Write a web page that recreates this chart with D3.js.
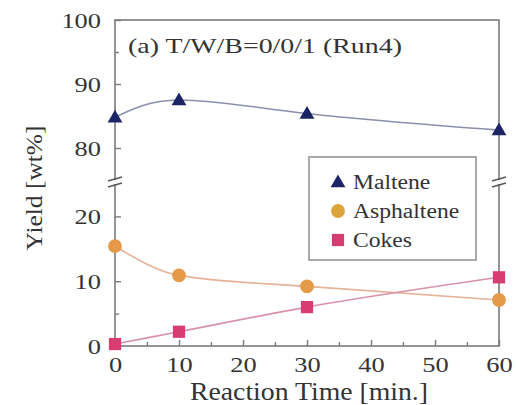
<!DOCTYPE html>
<html><head><meta charset="utf-8">
<script src="https://cdn.jsdelivr.net/npm/d3@7"></script>
<style>body{margin:0;background:#fff}svg{display:block}text{font-family:"Liberation Serif",Tinos,"Times New Roman",Times,"DejaVu Serif","Noto Serif",serif;fill:#333}</style>
</head><body>
<svg id="c" width="518" height="405"></svg>
<script>
const times = [0, 10, 30, 60];
const maltene = [84.8, 87.5, 85.4, 82.8];
const asphaltene = [15.4, 10.9, 9.2, 7.1];
const cokes = [0.3, 2.2, 6.0, 10.6];
const xTicks = [0, 10, 20, 30, 40, 50, 60];
const yTicksLow = [0, 10, 20];
const yTicksHigh = [80, 90, 100];
const seriesNames = ["Maltene", "Asphaltene", "Cokes"];

const FONT = '"Liberation Serif",Tinos,"Times New Roman",Times,"DejaVu Serif","Noto Serif",serif';
const svg = d3.select("#c");
const L = 115, R = 499, T = 20, B = 346;
const x = d3.scaleLinear().domain([0, 60]).range([L, R]);
const yLow = d3.scaleLinear().domain([0, 25]).range([B, 184]);
const yHigh = d3.scaleLinear().domain([75, 100]).range([180, T]);
const y = v => v >= 50 ? yHigh(v) : yLow(v);

function stretch(sel, f) {
  sel.each(function () {
    const len = this.getComputedTextLength();
    d3.select(this).attr("textLength", len * f).attr("lengthAdjust", "spacingAndGlyphs");
  });
}

const axisCol = "#7a7a7a";
svg.append("rect").attr("x", L).attr("y", T).attr("width", R - L).attr("height", B - T)
  .attr("fill", "none").attr("stroke", axisCol).attr("stroke-width", 1.6);

const gx = svg.append("g").attr("transform", `translate(0,${B})`)
  .call(d3.axisBottom(x).tickValues(xTicks).tickSizeInner(-6).tickSizeOuter(0).tickPadding(10));
const gxm = svg.append("g").attr("transform", `translate(0,${B})`)
  .call(d3.axisBottom(x).tickValues(d3.range(5, 60, 10)).tickSizeInner(-4).tickSizeOuter(0).tickFormat(""));
const gyl = svg.append("g").attr("transform", `translate(${L},0)`)
  .call(d3.axisLeft(yLow).tickValues(yTicksLow).tickSizeInner(-6).tickSizeOuter(0).tickPadding(14));
const gylm = svg.append("g").attr("transform", `translate(${L},0)`)
  .call(d3.axisLeft(yLow).tickValues([5, 15]).tickSizeInner(-4).tickSizeOuter(0).tickFormat(""));
const gyh = svg.append("g").attr("transform", `translate(${L},0)`)
  .call(d3.axisLeft(yHigh).tickValues(yTicksHigh).tickSizeInner(-6).tickSizeOuter(0).tickPadding(14));
const gyhm = svg.append("g").attr("transform", `translate(${L},0)`)
  .call(d3.axisLeft(yHigh).tickValues([85, 95]).tickSizeInner(-4).tickSizeOuter(0).tickFormat(""));
[gx, gxm, gyl, gylm, gyh, gyhm].forEach(g => {
  g.attr("font-family", FONT);
  g.select(".domain").remove();
  g.selectAll("line").attr("stroke", axisCol).attr("stroke-width", 1.4);
  g.selectAll("text").attr("font-family", FONT).style("font-family", FONT).style("font-size", "22px").attr("fill", "#333");
});
gx.selectAll("text").attr("dy", "0.72em");
[gx, gyl, gyh].forEach(g => stretch(g.selectAll("text"), 1.2));

[L, R].forEach(px => {
  svg.append("rect").attr("x", px - 3).attr("y", 180).attr("width", 6).attr("height", 4).attr("fill", "#fff");
  [179, 185].forEach(py => {
    svg.append("line").attr("x1", px - 7).attr("x2", px + 7).attr("y1", py + 2).attr("y2", py - 2)
      .attr("stroke", "#555").attr("stroke-width", 1.4);
  });
});

const ptsM = times.map((t, i) => [x(t), y(maltene[i])]);
const ptsA = times.map((t, i) => [x(t), y(asphaltene[i])]);
const ptsC = times.map((t, i) => [x(t), y(cokes[i])]);
svg.append("path").attr("d", d3.line().curve(d3.curveNatural)(ptsM)).attr("fill", "none").attr("stroke", "#8a90ac").attr("stroke-width", 1.6);
svg.append("path").attr("d", d3.line().curve(d3.curveMonotoneX)(ptsA)).attr("fill", "none").attr("stroke", "#e6b29a").attr("stroke-width", 1.6);
svg.append("path").attr("d", d3.line().curve(d3.curveMonotoneX)(ptsC)).attr("fill", "none").attr("stroke", "#d893a8").attr("stroke-width", 1.6);

const colM = "#1c2466", colA = "#e49a48", colC = "#d83d72";
const tri = d3.symbol().type(d3.symbolTriangle).size(95);
const circ = d3.symbol().type(d3.symbolCircle).size(150);
const sq = d3.symbol().type(d3.symbolSquare).size(150);
svg.append("g").selectAll("path").data(ptsA).join("path").attr("d", circ).attr("transform", d => `translate(${d[0]},${d[1]})`).attr("fill", colA);
svg.append("g").selectAll("path").data(ptsC).join("path").attr("d", sq).attr("transform", d => `translate(${d[0]},${d[1]})`).attr("fill", colC);
svg.append("g").selectAll("path").data(ptsM).join("path").attr("d", tri).attr("transform", d => `translate(${d[0]},${d[1] + 1})`).attr("fill", colM);

const title = svg.append("text").attr("x", 128).attr("y", 53).attr("font-family", FONT).style("font-size", "22px").text("(a) T/W/B=0/0/1 (Run4)");
title.attr("textLength", 274).attr("lengthAdjust", "spacingAndGlyphs");

svg.append("rect").attr("x", 309).attr("y", 157).attr("width", 167).attr("height", 103)
  .attr("fill", "#fff").attr("stroke", "#aaa").attr("stroke-width", 2);
const legY = [182, 211, 240];
const legSym = [tri, circ, sq];
const legCol = [colM, "#dba53c", colC];
seriesNames.forEach((n, i) => {
  svg.append("path").attr("d", legSym[i]).attr("transform", `translate(338,${legY[i] + (i === 0 ? 1 : 0)})`).attr("fill", legCol[i]);
  const t = svg.append("text").attr("x", 353).attr("y", legY[i]).attr("dy", "0.35em").attr("font-family", FONT).style("font-size", "20px").text(n);
  stretch(t, 1.18);
});

const xl = svg.append("text").attr("x", 309).attr("y", 400).attr("text-anchor", "middle")
  .attr("font-family", FONT).style("font-size", "25px").text("Reaction Time [min.]");
xl.attr("textLength", 238).attr("lengthAdjust", "spacingAndGlyphs");
const yl = svg.append("text").attr("transform", "translate(42,188) rotate(-90)").attr("text-anchor", "middle")
  .attr("font-family", FONT).style("font-size", "24px").text("Yield [wt%]");
yl.attr("textLength", 125).attr("lengthAdjust", "spacingAndGlyphs");
</script>
</body></html>
